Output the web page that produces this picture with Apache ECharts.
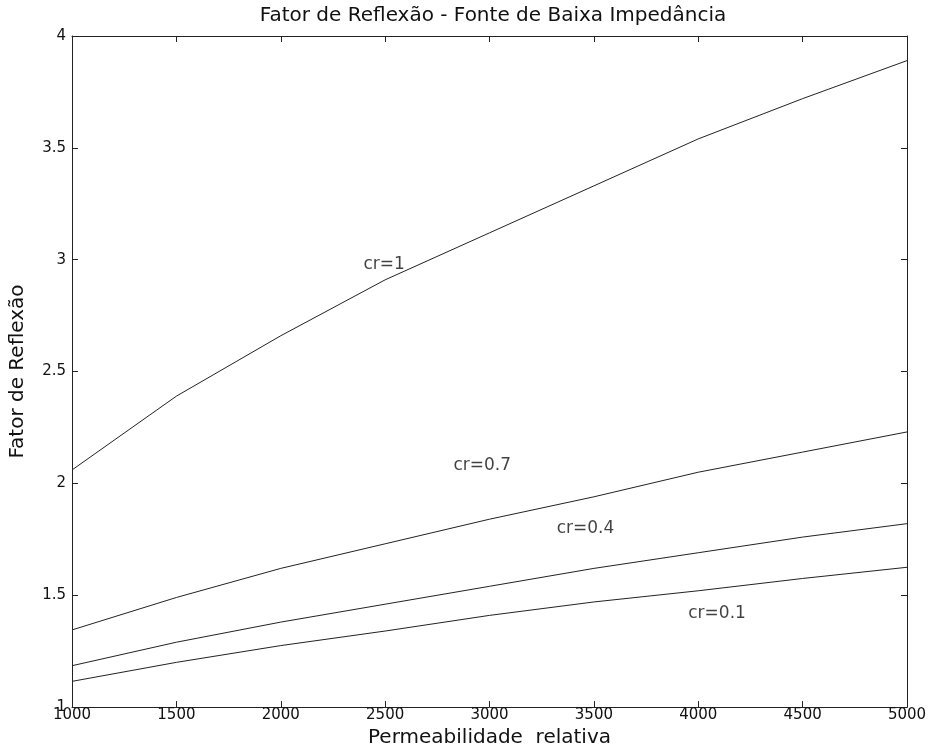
<!DOCTYPE html>
<html>
<head>
<meta charset="utf-8">
<script src="https://cdn.jsdelivr.net/npm/echarts@6/dist/echarts.min.js"></script>
<style>
html,body{margin:0;padding:0;background:#fff;}
#chart{width:930px;height:753px;}
</style>
</head>
<body>
<div id="chart"></div>
<script>
// Data
const permeabilidade = [1000, 1500, 2000, 2500, 3000, 3500, 4000, 4500, 5000];
const cr1  = [2.06, 2.39, 2.66, 2.91, 3.12, 3.33, 3.54, 3.72, 3.89];
const cr07 = [1.345, 1.49, 1.62, 1.73, 1.84, 1.94, 2.05, 2.14, 2.23];
const cr04 = [1.185, 1.29, 1.38, 1.46, 1.54, 1.62, 1.69, 1.76, 1.82];
const cr01 = [1.115, 1.20, 1.275, 1.34, 1.41, 1.47, 1.52, 1.575, 1.625];
const seriesNames = ['cr=1', 'cr=0.7', 'cr=0.4', 'cr=0.1'];
const xTicks = {min: 1000, max: 5000, step: 500};
const yTicks = {min: 1, max: 4, step: 0.5};
// annotation anchors (data coordinates, label centres)
const labelX = [2495, 2965, 3460, 4090];
const labelY = [2.98, 2.08, 1.80, 1.42];

const FONT = '"DejaVu Sans", Verdana, sans-serif';
const allSeries = [cr1, cr07, cr04, cr01];

const chart = echarts.init(document.getElementById('chart'), null, {renderer: 'canvas'});

function pairs(ys) { return permeabilidade.map((x, i) => [x, ys[i]]); }

const series = allSeries.map((ys, k) => ({
  name: seriesNames[k],
  type: 'line',
  xAxisIndex: 0, yAxisIndex: 0,
  data: pairs(ys),
  showSymbol: false,
  symbol: 'none',
  smooth: false,
  lineStyle: {color: '#222', width: 1},
  silent: true,
  z: 3
}));

series.push({
  type: 'scatter',
  xAxisIndex: 0, yAxisIndex: 0,
  symbolSize: 0,
  data: seriesNames.map((n, i) => ({name: n, value: [labelX[i], labelY[i]]})),
  label: {
    show: true, position: 'inside', formatter: '{b}',
    color: '#111', fontFamily: FONT, fontSize: 17,
    textBorderWidth: 0, textBorderColor: 'transparent'
  },
  silent: true, z: 4
});

const axisCommon = {
  type: 'value',
  axisLine: {show: true, onZero: false, lineStyle: {color: '#222', width: 1}},
  axisTick: {show: true, inside: true, length: 6, lineStyle: {color: '#222'}},
  splitLine: {show: false}
};

chart.setOption({
  backgroundColor: '#fff',
  animation: false,
  title: {
    text: 'Fator de Reflexão - Fonte de Baixa Impedância',
    left: 488, top: 1, textAlign: 'center',
    textStyle: {fontFamily: FONT, fontSize: 20, fontWeight: 'normal', color: '#111'}
  },
  grid: {left: 70, right: 23, top: 36, bottom: 30, containLabel: false},
  xAxis: [
    Object.assign({}, axisCommon, {
      position: 'bottom',
      min: xTicks.min, max: xTicks.max, interval: xTicks.step,
      name: 'Permeabilidade  relativa', nameLocation: 'middle', nameGap: 15,
      nameTextStyle: {fontFamily: FONT, fontSize: 20, color: '#111'},
      axisLabel: {fontFamily: FONT, fontSize: 15, color: '#111', margin: 1,
                  formatter: v => String(v)}
    }),
    Object.assign({}, axisCommon, {
      position: 'top',
      min: xTicks.min, max: xTicks.max, interval: xTicks.step,
      axisLabel: {show: false}
    })
  ],
  yAxis: [
    Object.assign({}, axisCommon, {
      position: 'left',
      min: yTicks.min, max: yTicks.max, interval: yTicks.step,
      name: 'Fator de Reflexão', nameLocation: 'middle', nameGap: 44,
      nameTextStyle: {fontFamily: FONT, fontSize: 20, color: '#111'},
      axisLabel: {fontFamily: FONT, fontSize: 15, color: '#111', margin: 6,
                  formatter: v => String(v)}
    }),
    Object.assign({}, axisCommon, {
      position: 'right',
      min: yTicks.min, max: yTicks.max, interval: yTicks.step,
      axisLabel: {show: false}
    })
  ],
  series: series
});
</script>
</body>
</html>
